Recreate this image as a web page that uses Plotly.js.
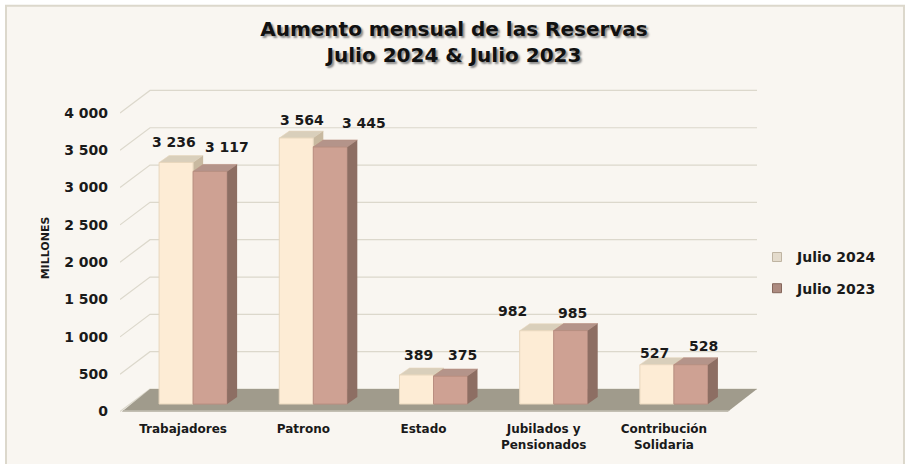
<!DOCTYPE html>
<html>
<head>
<meta charset="utf-8">
<script src="https://cdn.plot.ly/plotly-3.0.1.min.js"></script>
<style>html,body{margin:0;padding:0;background:#ffffff;}#chart{width:908px;height:464px;}</style>
</head>
<body>
<div id="chart"></div>
<script>
// ---- data ----
const categories = ['Trabajadores', 'Patrono', 'Estado', 'Jubilados y<br>Pensionados', 'Contribución<br>Solidaria'];
const seriesNames = ['Julio 2024', 'Julio 2023'];
const julio2024 = [3236, 3564, 389, 982, 527];
const julio2023 = [3117, 3445, 375, 985, 528];
const yTickVals = [0, 500, 1000, 1500, 2000, 2500, 3000, 3500, 4000];
const yTickText = ['0', '500', '1 000', '1 500', '2 000', '2 500', '3 000', '3 500', '4 000'];

// ---- layout geometry ----
const W = 908, H = 464;
const plotL = 120, plotR = 757, plotT = 83.2, plotB = 413;
const pxX = 120.2;                         // px per category
const xLo = -0.5 - 13 / pxX;               // bar plane starts 13px right of plot left
const xRange = [xLo, xLo + (plotR - plotL) / pxX];
const yRange = [-120, 4300];
const pxY = (plotB - plotT) / (yRange[1] - yRange[0]);
const barW = 0.283;            // bar width in category units
const depthX = 10, depthY = 7; // 3D depth of bars (px)
const frontDX = -10, frontDY = -7.5; // front plane offset (px) from bar plane
const backDY = 15;             // back wall offset (px, up)
const idx = categories.map((c, i) => i);

// value-label placement (px offsets from the top centre of each bar)
const labelShiftX24 = [-2, 6, 2, -24, -2];
const labelShiftY24 = [20, 18, 20, 20, 12];
const labelShiftX23 = [17, 34, 12, 2, 13];
const labelShiftY23 = [24, 24, 21, 18, 19];

const col24 = {front: '#fdecd5', line: '#e7d6bd', top: '#d9cfbb', side: '#c8b9a0', key: '#e4dbcc'};
const col23 = {front: '#cea193', line: '#b98e80', top: '#b4948a', side: '#8d6e63', key: '#ad8b80'};
const txt = '#1a1a1a';
const font = 'DejaVu Sans, Verdana, sans-serif';

const px2paperX = p => (p - plotL) / (plotR - plotL);
const px2paperY = p => (plotB - p) / (plotB - plotT);
const fmt = v => String(v).replace(/\B(?=(\d{3})+(?!\d))/g, ' ');

// ---- traces ----
const traces = [
  {type: 'bar', name: seriesNames[0], x: idx, y: julio2024, width: barW, offset: -barW,
   marker: {color: col24.front, line: {color: col24.line, width: 1}},
   showlegend: false, hoverinfo: 'skip'},
  {type: 'bar', name: seriesNames[1], x: idx, y: julio2023, width: barW, offset: 0,
   marker: {color: col23.front, line: {color: col23.line, width: 1}},
   showlegend: false, hoverinfo: 'skip'},
  // legend keys (small squares, like the reference)
  {type: 'scatter', name: seriesNames[0], x: [null], y: [null], mode: 'markers',
   marker: {symbol: 'square', size: 9, color: col24.key, line: {color: '#bfb4a2', width: 1}},
   legendgroup: 'a', hoverinfo: 'skip'},
  {type: 'scatter', name: seriesNames[1], x: [null], y: [null], mode: 'markers',
   marker: {symbol: 'square', size: 9, color: col23.key, line: {color: '#86675c', width: 1}},
   legendgroup: 'b', hoverinfo: 'skip'},
  // anchors for the overlaid label axes
  {type: 'scatter', x: [0], y: [0], xaxis: 'x', yaxis: 'y2', mode: 'markers',
   marker: {opacity: 0}, showlegend: false, hoverinfo: 'skip'},
  {type: 'scatter', x: [0], y: [0], xaxis: 'x2', yaxis: 'y', mode: 'markers',
   marker: {opacity: 0}, showlegend: false, hoverinfo: 'skip'}
];

// ---- shapes ----
const shapes = [];
// background panel with border
shapes.push({type: 'rect', xref: 'paper', yref: 'paper', layer: 'below',
  x0: px2paperX(6), x1: px2paperX(904), y0: px2paperY(470), y1: px2paperY(6),
  fillcolor: '#f9f6f1', line: {color: '#dcd8cc', width: 2}});
// back-wall gridlines with diagonal from the front plane
const gridFrontX = -13, gridBackX = 17, gridRightX = 624;
yTickVals.forEach(v => {
  shapes.push({type: 'path', xref: 'x', yref: 'y', layer: 'below',
    xsizemode: 'pixel', ysizemode: 'pixel', xanchor: -0.5, yanchor: v,
    path: `M${gridFrontX},${frontDY} L${gridBackX},${backDY} L${gridRightX},${backDY}`,
    line: {color: '#dcd8cc', width: 1.2}});
});
// floor
shapes.push({type: 'path', xref: 'x', yref: 'y', layer: 'below',
  xsizemode: 'pixel', ysizemode: 'pixel', xanchor: -0.5, yanchor: 0,
  path: `M-11,${frontDY} L595,${frontDY} L624,${backDY} L17,${backDY} Z`,
  fillcolor: '#a09b8c', line: {width: 0}});
shapes.push({type: 'path', xref: 'x', yref: 'y', layer: 'below',
  xsizemode: 'pixel', ysizemode: 'pixel', xanchor: -0.5, yanchor: 0,
  path: `M-11,${frontDY} L595,${frontDY} L597,${frontDY + 1.5} L-9,${frontDY + 1.5} Z`,
  fillcolor: '#b9b5a8', line: {width: 0}});

function faces(values, off, col, layer) {
  values.forEach((v, i) => {
    const left = i + off;
    const wpx = barW * pxX;
    const hpx = v * pxY;
    // top face
    shapes.push({type: 'path', xref: 'x', yref: 'y', layer: layer,
      xsizemode: 'pixel', ysizemode: 'pixel', xanchor: left, yanchor: 0,
      path: `M0,${hpx} L${wpx},${hpx} L${wpx + depthX},${hpx + depthY} L${depthX},${hpx + depthY} Z`,
      fillcolor: col.top, line: {color: col.line, width: 0.6}});
    // side face
    shapes.push({type: 'path', xref: 'x', yref: 'y', layer: layer,
      xsizemode: 'pixel', ysizemode: 'pixel', xanchor: left, yanchor: 0,
      path: `M${wpx},0 L${wpx},${hpx} L${wpx + depthX},${hpx + depthY} L${wpx + depthX},${depthY} Z`,
      fillcolor: col.side, line: {width: 0}});
  });
}
faces(julio2024, -barW, col24, 'below');
faces(julio2023, 0, col23, 'above');

// ---- value labels ----
const annotations = [];
julio2024.forEach((v, i) => annotations.push({
  x: i - barW / 2, y: v, xref: 'x', yref: 'y', text: fmt(v), showarrow: false,
  yanchor: 'middle', yshift: labelShiftY24[i], xshift: labelShiftX24[i],
  font: {family: font, size: 14, weight: 700, color: txt}}));
julio2023.forEach((v, i) => annotations.push({
  x: i + barW / 2, y: v, xref: 'x', yref: 'y', text: fmt(v), showarrow: false,
  yanchor: 'middle', yshift: labelShiftY23[i], xshift: labelShiftX23[i],
  font: {family: font, size: 14, weight: 700, color: txt}}));

const layout = {
  width: W, height: H,
  margin: {l: plotL, r: W - plotR, t: plotT, b: H - plotB, pad: 0},
  paper_bgcolor: '#ffffff', plot_bgcolor: 'rgba(0,0,0,0)',
  barmode: 'overlay',
  showlegend: true,
  title: {text: 'Aumento mensual de las Reservas<br>Julio 2024 & Julio 2023',
    xref: 'container', x: 0.5, xanchor: 'center', yref: 'container', y: 1 - 36 / H, yanchor: 'top',
    font: {family: font, size: 20, weight: 700, color: '#111111', shadow: '2px 2px 2px #8a8a8a'}},
  xaxis: {range: xRange, showgrid: false, zeroline: false, showticklabels: false, fixedrange: true},
  xaxis2: {overlaying: 'x', anchor: 'y', side: 'bottom',
    range: [xRange[0] - frontDX / pxX, xRange[1] - frontDX / pxX],
    tickvals: idx, ticktext: categories, showgrid: false, zeroline: false, ticks: '',
    ticklabelstandoff: 7,
    tickfont: {family: font, size: 12, weight: 700, color: txt}},
  yaxis: {range: yRange, showgrid: false, zeroline: false, showticklabels: false, fixedrange: true},
  yaxis2: {overlaying: 'y', anchor: 'x', side: 'left',
    range: [yRange[0] - frontDY / pxY, yRange[1] - frontDY / pxY],
    tickvals: yTickVals, ticktext: yTickText, showgrid: false, zeroline: false, ticks: '',
    ticklabelstandoff: 11,
    tickfont: {family: font, size: 14, weight: 700, color: txt},
    title: {text: 'MILLONES', standoff: 12, font: {family: font, size: 11, weight: 700, color: txt}}},
  legend: {x: px2paperX(757), y: px2paperY(273), xanchor: 'left', yanchor: 'middle',
    traceorder: 'grouped', tracegroupgap: 10, bgcolor: 'rgba(0,0,0,0)',
    font: {family: font, size: 14, weight: 700, color: txt}},
  shapes: shapes,
  annotations: annotations
};

Plotly.newPlot('chart', traces, layout, {displayModeBar: false, staticPlot: true});
</script>
</body>
</html>
